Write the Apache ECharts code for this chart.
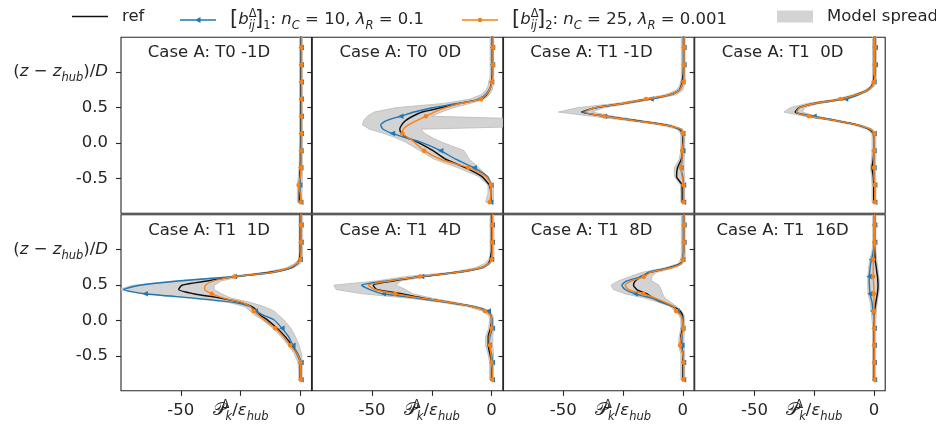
<!DOCTYPE html>
<html><head><meta charset="utf-8">
<script src="https://cdn.jsdelivr.net/npm/echarts@6/dist/echarts.min.js"></script>
<style>html,body{margin:0;padding:0;background:#fff}#c{width:936px;height:431px}</style>
</head><body><div id="c"></div>
<script>
// ---------------- data ----------------
// vertical coordinate (z - z_hub)/D, shared by all profiles (bottom -> top)
const Z = [-0.833,-0.712,-0.591,-0.470,-0.349,-0.228,-0.107,0.014,0.074,0.135,
           0.195,0.256,0.316,0.377,0.437,0.498,0.558,0.619,0.679,0.740,
           0.800,0.861,0.922,0.982,1.103,1.224,1.345,1.466,1.590];
// samples that carry a marker
const MARKER_IDX = [0,2,4,6,9,13,17,21,24,26];

const TITLES = ['Case A: T0 -1D','Case A: T0  0D','Case A: T1 -1D','Case A: T1  0D',
                'Case A: T1  1D','Case A: T1  4D','Case A: T1  8D','Case A: T1  16D'];
const X_TICKS = [-50, -25, 0];
const Y_TICKS = [-0.5, 0, 0.5, 1];

// reference profiles P_k / eps_hub
const refCurves = [
 [-0.4,-0.4,-0.3,-0.2,0,0.1,0.1,0.2,0.2,0.2, 0.2,0.2,0.2,0.2,0.2,0.2,0.2,0.2,0.2,0.2, 0.2,0.2,0.2,0.2,0.2,0.3,0.3,0.3,0.3],
 [-0.3,-0.3,-1.0,-4.1,-10.8,-19.2,-24.5,-31,-35.2,-37.6, -38.4,-37.6,-36,-33,-29,-21.3,-13.6,-4.5,-2.2,-1, -0.3,0,0.2,0.3,0.3,0.3,0.3,0.3,0.3],
 [-0.2,-0.2,-0.3,-2.6,-2.2,-0.6,-0.2,0,0,-0.2, -1.5,-7,-19.6,-32.1,-42.3,-36.3,-25.1,-14.7,-5.6,-1.7, -0.7,-0.3,0,0.2,0.3,0.3,0.3,0.3,0.3],
 [-0.1,-0.1,-0.1,-0.3,-0.8,-0.3,-0.1,-0.1,-0.1,-0.3, -2.1,-7,-16,-26.5,-33,-31.4,-25.1,-14,-7.7,-3, -1,-0.3,0,0.2,0.2,0.2,0.2,0.2,0.2],
 [0,0,0,-1.4,-3.5,-6.3,-9.8,-13.9,-16.7,-18.1, -20.2,-25.1,-33.5,-44.6,-50.9,-49.5,-39,-27.2,-12.6,-4.2, -1.4,-0.4,-0.1,0,0,0,0,0,0],
 [0,0,0,-0.7,-1.4,-1.4,-0.4,0,-0.3,-2.1, -7.7,-17.4,-28.6,-37.7,-48.1,-49.5,-41.1,-29.3,-14.6,-4.6, -1.4,-0.6,-0.3,0,0,0,0,0,0],
 [0,0,0,0,-0.4,-0.8,-0.1,0,-0.1,-1.1, -3.9,-8.1,-12.3,-15.1,-19.2,-20.6,-19.9,-17.2,-13.7,-6, -1.1,0,0.2,0.3,0.3,0.3,0.3,0.3,0.3],
 [0,0,0,0,0,0,0,0,0.1,0.2, 0.5,0.8,1.1,1.4,1.6,1.7,1.6,1.5,1.2,1.0, 0.7,0.5,0.4,0.3,0.2,0.2,0.2,0.2,0.2]
];
// model [b]_1 : n_C = 10, lambda_R = 0.1
const model1Curves = [
 [0.2,0.1,-0.3,0.1,0.2,0.3,0.3,0.3,0.3,0.4, 0.4,0.4,0.4,0.4,0.4,0.4,0.4,0.4,0.4,0.4, 0.4,0.4,0.4,0.4,0.4,0.4,0.4,0.4,0.4],
 [-0.4,-0.3,-0.3,-1.7,-7.3,-15,-21.3,-29.6,-35.9,-41.5, -45.4,-46.4,-44,-38,-32.4,-24.8,-14.3,-5,-2.7,-1.3, -0.3,0,0.3,0.4,0.4,0.4,0.4,0.4,0.4],
 [0.3,0.3,0.3,0,-0.8,-0.2,0,0.3,0.3,0, -1.2,-7.7,-20.3,-32.8,-41.9,-36.3,-24.5,-13.3,-5,-1.5, -0.4,0,0.3,0.5,0.5,0.5,0.5,0.5,0.5],
 [0.3,0.3,0.3,0,0,0,0,0,0,0.1, -1.8,-7,-15.5,-25.1,-32.5,-31.4,-24.4,-11.9,-6.5,-2.8, -0.8,0,0.3,0.5,0.5,0.5,0.5,0.5,0.5],
 [0.3,0.3,0.3,-1,-3.1,-4.9,-7.7,-11.2,-15.3,-18.8, -20.9,-27.9,-44.6,-64.9,-73.9,-67,-51,-27.6,-11,-4, -1.2,0,0.2,0.3,0.3,0.3,0.3,0.3,0.3],
 [0.3,0.3,0.3,0,-1,-0.7,0.3,0.2,-0.3,-1.4, -7,-18.8,-31.4,-45.3,-50.9,-54.4,-43.9,-29.3,-14,-4.5, -1.2,0,0.2,0.3,0.3,0.3,0.3,0.3,0.3],
 [0.3,0.3,0.3,0,-0.4,-0.3,0,-0.2,-0.5,-2.3, -4.2,-8.8,-13,-19.9,-24.1,-25.5,-23.4,-17.2,-14.5,-6, -1,0,0.3,0.5,0.5,0.5,0.5,0.5,0.5],
 [0.2,0.1,0.1,0.1,0.1,0.1,0.1,0.1,-0.2,-0.5, -0.6,-0.8,-1.2,-1.7,-1.8,-1.9,-2.0,-2.0,-1.8,-1.6, -1.4,-1.0,-0.6,-0.3,0.3,0.3,0.3,0.3,0.3]
];
// model [b]_2 : n_C = 25, lambda_R = 0.001
const model2Curves = [
 [0.2,0,-0.7,0,0.3,0.4,0.4,0.5,0.5,0.5, 0.5,0.5,0.5,0.5,0.5,0.5,0.5,0.5,0.5,0.5, 0.5,0.5,0.5,0.5,0.5,0.5,0.5,0.5,0.5],
 [-0.8,-0.3,-0.3,-2.4,-9.7,-21.3,-28.2,-32.4,-34.8,-37.3, -36.9,-34.8,-31.4,-27.5,-24,-19.2,-12.9,-4.5,-2.4,-1, -0.2,0.2,0.5,0.6,0.6,0.6,0.6,0.6,0.6],
 [0.3,0.3,0.3,-0.3,-0.8,-0.3,-0.3,0.3,0.3,0, -0.5,-7.7,-20.3,-32.8,-40.8,-37,-25.1,-15.4,-5.5,-1.5, -0.5,0.3,0.5,0.5,0.5,0.5,0.5,0.5,0.5],
 [0.3,0.3,0.3,0,0,0,0,0,0,0.2, -1.4,-7,-16,-27.2,-32.3,-31,-25.1,-14,-7.7,-3, -0.8,0,0.3,0.3,0.3,0.3,0.3,0.3,0.3],
 [0.2,0.2,0,-1.4,-4.2,-7,-10.5,-15.3,-17.4,-19.5, -20.9,-24.4,-32,-37,-40,-39.7,-36.3,-27.6,-12,-5, -1.6,0,0.2,0.3,0.3,0.3,0.3,0.3,0.3],
 [0.3,0.3,0,-0.3,-0.7,-1,0,0,-0.5,-2.8, -7.7,-17.4,-29.3,-40.4,-48.8,-51.6,-42.5,-30,-15,-5, -1.3,0,0.2,0.3,0.3,0.3,0.3,0.3,0.3],
 [0.3,0.3,0.3,0,-1.1,-0.6,0.3,-0.2,-0.8,-2.8, -3.6,-7.4,-11.6,-16.5,-22.7,-24.1,-21.3,-16.2,-13.5,-5, -0.6,0,0.3,0.5,0.5,0.5,0.5,0.5,0.5],
 [0.2,0.1,0.1,0.1,0.1,0.1,0.1,0,0,0, 0,0,0,0,0,-0.1,-0.2,-0.3,-0.3,-0.3, -0.3,-0.3,-0.1,0,0.2,0.2,0.2,0.2,0.2]
];
// model spread envelope (left / right bound)
const spreadMin = [
 [-1.2,-1.2,-1.2,-0.8,-0.5,-0.4,-0.3,-0.3,-0.3,-0.3, -0.3,-0.3,-0.3,-0.3,-0.3,-0.3,-0.3,-0.3,-0.3,-0.3, -0.3,-0.3,-0.3,-0.3,-0.3,-0.3,-0.3,-0.3,-0.3],
 [-2.5,-1.5,-1.5,-5.5,-14,-24,-30,-36,-40,-45, -51,-54,-53.5,-52,-49,-40,-20,-9,-4.5,-2.5, -1.5,-1.2,-0.6,-0.6,-0.6,-0.6,-0.6,-0.6,-0.6],
 [-0.8,-0.8,-1,-3.5,-3.5,-1.5,-0.8,-0.8,-0.8,-0.8, -2.5,-9.5,-23,-38,-52,-44,-28,-17,-7.5,-3, -1.5,-0.8,-0.6,-0.6,-0.6,-0.6,-0.6,-0.6,-0.6],
 [-0.8,-0.8,-0.8,-1,-1.5,-1,-0.8,-0.8,-0.8,-0.8, -3,-9,-18,-29,-37.7,-35,-28,-16,-9,-4, -1.5,-0.8,-0.6,-0.6,-0.6,-0.6,-0.6,-0.6,-0.6],
 [-0.6,-0.6,-1,-2.5,-5,-8,-11.5,-16,-19,-21, -23,-30,-46,-66,-76,-70,-53,-30,-15,-6, -2.5,-0.8,-0.5,-0.5,-0.5,-0.5,-0.5,-0.5,-0.5],
 [-0.8,-0.8,-0.8,-1.5,-2.5,-2.5,-1.2,-0.8,-1.2,-4, -10,-21,-35,-54,-65,-66,-48,-36,-17,-7, -3,-1.2,-0.6,-0.6,-0.6,-0.6,-0.6,-0.6,-0.6],
 [-0.8,-0.8,-0.8,-0.8,-1.8,-1.5,-0.8,-0.8,-1.5,-3.5, -5,-10,-16,-24,-29,-30,-27,-22,-17,-8, -2,-0.8,-0.6,-0.6,-0.6,-0.6,-0.6,-0.6,-0.6],
 [-0.6,-0.6,-0.6,-0.6,-0.6,-0.6,-0.6,-0.8,-1,-1.2, -1.4,-1.6,-2,-2.4,-2.6,-2.6,-2.6,-2.6,-2.4,-2.2, -2,-1.8,-1.2,-0.8,-0.5,-0.5,-0.5,-0.5,-0.5]
];
const spreadMax = [
 [0.7,0.7,0.8,0.9,0.9,0.9,0.9,0.9,0.9,0.9, 0.9,0.9,0.9,0.9,0.9,0.9,0.9,0.9,0.9,0.9, 0.9,0.9,0.9,0.9,0.9,0.9,0.9,0.9,0.9],
 [0.8,0.8,0.8,-1.7,-5.2,-9.4,-11.5,-21,-24.8,-28, -29.6,40,40,-25,-21,-16,-9,-3,-1,0.2, 0.6,0.8,0.9,0.9,0.9,0.9,0.9,0.9,0.9],
 [0.8,0.8,0.8,0.8,0.5,0.6,0.8,0.8,0.8,0.8, 0,-5,-17,-29,-38,-33,-22,-12,-3,0, 0.5,0.8,1,1,1,1,1,1,1],
 [0.8,0.8,0.8,0.8,0.5,0.8,0.8,0.8,0.8,0.8, -0.5,-5.5,-14,-24,-30,-29,-23,-11,-6,-2, 0.2,0.8,1,1,1,1,1,1,1],
 [0.8,0.8,0.8,0.5,-0.5,-2,-4,-7,-9,-11, -15,-21,-29,-33,-36,-36,-33,-25,-10,-3, 0,0.8,1,1,1,1,1,1,1],
 [0.8,0.8,0.8,0.8,0.5,0.5,0.8,0.8,0.5,-1, -6,-15,-25,-33,-36,-40,-38,-27,-12,-3, -0.5,0.5,1,1,1,1,1,1,1],
 [0.8,0.8,0.8,0.8,0.5,0.5,0.8,0.8,0.5,-0.5, -2.5,-5,-7.5,-8.5,-9,-10,-13,-13,-11,-4, 0,0.8,1,1,1,1,1,1,1],
 [0.7,0.7,0.7,0.7,0.7,0.7,0.7,0.8,0.9,1, 1.2,1.4,1.6,2,2.2,2.2,2.2,2,1.8,1.6, 1.4,1.2,1,0.8,0.8,0.8,0.8,0.8,0.8]
];

// ---------------- style / layout ----------------
const FONT = 'DejaVu Sans';
const TXT = '#262626';
const FS = 16.5;
const C_BLUE = '#1f77b4', C_ORANGE = '#ff7f0e', C_REF = '#111111';
const SPREAD_FILL = '#d3d3d3', SPREAD_EDGE = '#bdbdbd';
const LEFTS = [121, 312.3, 503.5, 694.7];
const TOPS = [37.3, 214.8];
const PW = 190.5, PH = 176;
const XMIN = -75, XMAX = 4.7, YMIN = -0.99, YMAX = 1.49;

const RICH = {
  n:   {fontFamily: FONT, fontSize: FS, color: TXT, lineHeight: 24},
  i:   {fontFamily: FONT, fontSize: FS, color: TXT, lineHeight: 24, fontStyle: 'italic'},
  c:   {fontFamily: FONT, fontSize: FS + 1, color: TXT, lineHeight: 24},
  br:  {fontFamily: FONT, fontSize: 21, color: TXT, lineHeight: 24},
  sup: {fontFamily: FONT, fontSize: 11.5, color: TXT, lineHeight: 13, verticalAlign: 'top', width: 0},
  sub: {fontFamily: FONT, fontSize: 11.5, color: TXT, lineHeight: 13, verticalAlign: 'bottom'},
  subi:{fontFamily: FONT, fontSize: 11.5, color: TXT, lineHeight: 13, verticalAlign: 'bottom', fontStyle: 'italic'}
};
const LEGEND_TEXT = {
  'ref': '{n|ref}',
  'm1': '{br|[}{i|b}{sup|Δ}{subi|ij}{br|]}{sub|1}{n|: }{i|n}{subi|C}{n| = 10, }{i|λ}{subi|R}{n| = 0.1}',
  'm2': '{br|[}{i|b}{sup|Δ}{subi|ij}{br|]}{sub|2}{n|: }{i|n}{subi|C}{n| = 25, }{i|λ}{subi|R}{n| = 0.001}',
  'Model spread': '{n|Model spread}'
};
const LEGEND_ITEMS = [
  {name: 'ref', icon: 'path://M0,0H36V1.5H0Z', left: 72},
  {name: 'm1', icon: 'path://M0,5.3H36V6.7H0Z M15,6L20.5,3L20.5,9Z', left: 180},
  {name: 'm2', icon: 'path://M0,5.3H36V6.7H0Z M18,3.7A2.3,2.3 0 1 1 17.99,3.7Z', left: 462},
  {name: 'Model spread', icon: 'rect', left: 777}
];
const Y_LABEL = '{n|(}{i|z}{n| − }{i|z}{subi|hub}{n|)/}{i|D}';
const X_LABEL = '{c|𝒫}{sup|Δ}{subi|k}{n|/}{i|ε}{subi|hub}';

const MK = new Set(MARKER_IDX);
const grid = [], xAxis = [], yAxis = [], series = [], graphic = [];

for (let k = 0; k < 8; k++) {
  const r = Math.floor(k / 4), c = k % 4;
  grid.push({left: LEFTS[c], top: TOPS[r], width: PW, height: PH, show: true,
             borderColor: TXT, borderWidth: 1.1, backgroundColor: 'transparent'});
  xAxis.push({
    type: 'value', gridIndex: k, min: XMIN, max: XMAX, position: 'bottom',
    splitLine: {show: false}, axisLine: {show: false, onZero: false},
    axisTick: {show: r === 1, customValues: X_TICKS, length: 5, lineStyle: {color: TXT, width: 1.1}},
    axisLabel: {show: r === 1, customValues: X_TICKS, margin: 8, color: TXT, fontFamily: FONT, fontSize: FS,
                lineHeight: 24, rich: RICH,
                formatter: v => v === -25 ? X_LABEL : '{n|' + (v === 0 ? '0' : String(v)) + '}'}
  });
  yAxis.push({
    type: 'value', gridIndex: k, min: YMIN, max: YMAX, position: 'left',
    splitLine: {show: false}, axisLine: {show: false, onZero: false},
    axisTick: {show: true, customValues: Y_TICKS, length: 5, lineStyle: {color: TXT, width: 1.1}},
    axisLabel: {show: c === 0, customValues: Y_TICKS, margin: 13, color: TXT, fontFamily: FONT, fontSize: FS,
                lineHeight: 24, rich: RICH,
                formatter: v => v === 1 ? Y_LABEL : '{n|' + v.toFixed(1) + '}'}
  });

  const lo = spreadMin[k], hi = spreadMax[k];
  series.push({
    type: 'custom', name: 'Model spread', xAxisIndex: k, yAxisIndex: k, clip: true, silent: true, z: 1,
    itemStyle: {color: SPREAD_FILL},
    data: Z.map((z, i) => [lo[i], hi[i], z]),
    encode: {x: [0, 1], y: 2},
    renderItem: (params, api) => {
      if (params.dataIndex !== 0) return null;
      const pts = [];
      for (let i = 0; i < Z.length; i++) pts.push(api.coord([lo[i], Z[i]]));
      for (let i = Z.length - 1; i >= 0; i--) pts.push(api.coord([hi[i], Z[i]]));
      const cs = params.coordSys;
      return {type: 'polygon', shape: {points: pts},
              clipPath: {type: 'rect', shape: {x: cs.x, y: cs.y, width: cs.width, height: cs.height}},
              style: {fill: SPREAD_FILL, stroke: SPREAD_EDGE, lineWidth: 0.9}};
    }
  });
  const common = {type: 'line', xAxisIndex: k, yAxisIndex: k, smooth: 0.2, silent: true,
                  emphasis: {disabled: true}, animation: false};
  series.push(Object.assign({}, common, {
    name: 'ref', z: 2, symbol: 'none',
    data: Z.map((z, i) => [refCurves[k][i], z]),
    lineStyle: {color: C_REF, width: 1.5}, itemStyle: {color: C_REF}
  }));
  series.push(Object.assign({}, common, {
    name: 'm1', z: 3,
    symbol: (v, p) => MK.has(p.dataIndex) ? 'triangle' : 'none', symbolSize: 5.5, symbolRotate: 90,
    data: Z.map((z, i) => [model1Curves[k][i], z]),
    lineStyle: {color: C_BLUE, width: 1.4}, itemStyle: {color: C_BLUE}
  }));
  series.push(Object.assign({}, common, {
    name: 'm2', z: 4,
    symbol: (v, p) => MK.has(p.dataIndex) ? 'circle' : 'none', symbolSize: 4.5,
    data: Z.map((z, i) => [model2Curves[k][i], z]),
    lineStyle: {color: C_ORANGE, width: 1.4}, itemStyle: {color: C_ORANGE}
  }));

  graphic.push({type: 'text', x: LEFTS[c] + 88, y: TOPS[r] + 15.5, silent: true, z: 10,
    style: {text: TITLES[k], fill: TXT, font: FS + 'px "DejaVu Sans"',
            align: 'center', verticalAlign: 'middle', textAlign: 'center', textVerticalAlign: 'middle'}});
}

const legend = LEGEND_ITEMS.map(it => ({
  data: [{name: it.name, icon: it.icon}],
  left: it.left, top: 8, padding: 0, itemWidth: 36, itemHeight: 12, selectedMode: false,
  itemStyle: {borderWidth: 0},
  formatter: name => LEGEND_TEXT[name],
  textStyle: {fontFamily: FONT, fontSize: FS, color: TXT, padding: [0, 0, 0, 9], rich: RICH}
}));

const chart = echarts.init(document.getElementById('c'), null, {renderer: 'canvas'});
chart.setOption({animation: false, backgroundColor: '#ffffff', textStyle: {fontFamily: FONT},
                 legend, grid, xAxis, yAxis, series, graphic});
</script></body></html>
